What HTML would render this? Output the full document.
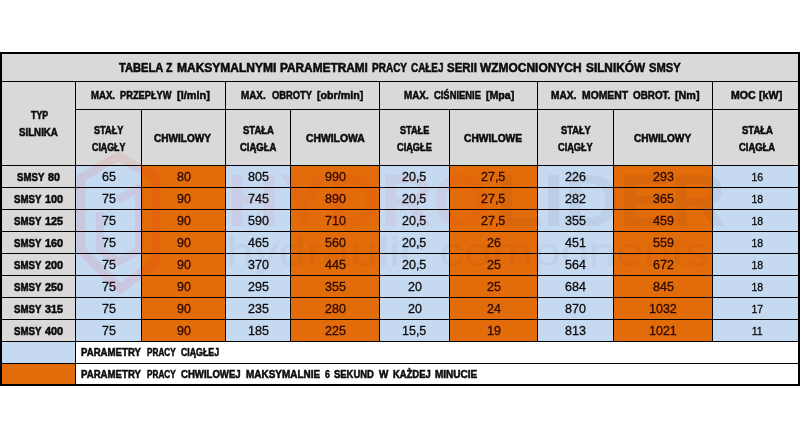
<!DOCTYPE html>
<html lang="pl"><head><meta charset="utf-8"><title>Tabela SMSY</title>
<style>
html,body{margin:0;padding:0;background:#fff;}
body{width:800px;height:441px;overflow:hidden;position:relative;font-family:"Liberation Sans",Arial,sans-serif;color:#0c0c0c;}
#tbl{position:absolute;left:0;top:52px;width:800px;height:334px;background:#000;}
#wrap{position:absolute;left:0;top:0;width:800px;height:441px;}
.c{position:absolute;white-space:nowrap;}
.t{position:absolute;display:block;transform-origin:0 50%;white-space:nowrap;}
.b{font-weight:bold;-webkit-text-stroke:0.55px #0c0c0c;}
.n{font-weight:normal;-webkit-text-stroke:0.3px #0c0c0c;}
.o{color:#2e0a00;-webkit-text-stroke-color:#2e0a00;}
.f0{font-size:10.5px;line-height:15px;}
.f1{font-size:10.8px;line-height:15px;}
.f2{font-size:11.5px;line-height:16px;}
.f3{font-size:12.0px;line-height:16px;}
.f4{font-size:12.7px;line-height:17px;}
</style></head><body>
<div id="tbl"></div>
<div id="wrap">
<div class="c" style="left:2px;top:54px;width:796px;height:27px;background:#d9d9d9"><span class="t b f4" style="left:117.43px;top:6px;transform:scaleX(0.8769);">TABELA</span> <span class="t b f4" style="left:164.38px;top:6px;transform:scaleX(0.8313);">Z</span> <span class="t b f4" style="left:174.68px;top:6px;transform:scaleX(0.9460);">MAKSYMALNYMI</span> <span class="t b f4" style="left:277.67px;top:6px;transform:scaleX(0.9329);">PARAMETRAMI</span> <span class="t b f4" style="left:369.67px;top:6px;transform:scaleX(0.7887);">PRACY</span> <span class="t b f4" style="left:408.87px;top:6px;transform:scaleX(0.7812);">CAŁEJ</span> <span class="t b f4" style="left:444.87px;top:6px;transform:scaleX(0.9030);">SERII</span> <span class="t b f4" style="left:477.87px;top:6px;transform:scaleX(0.9422);">WZMOCNIONYCH</span> <span class="t b f4" style="left:583.67px;top:6px;transform:scaleX(0.9306);">SILNIKÓW</span> <span class="t b f4" style="left:646.67px;top:6px;transform:scaleX(0.8782);">SMSY</span></div>
<div class="c" style="left:2px;top:82px;width:73px;height:83px;background:#d9d9d9"><span class="t b f1" style="left:28.97px;top:26px;transform:scaleX(0.8198);">TYP</span> <span class="t b f1" style="left:16.97px;top:43px;transform:scaleX(0.9000);">SILNIKA</span> </div>
<div class="c" style="left:76px;top:82px;width:149px;height:27px;background:#d9d9d9"><span class="t b f2" style="left:15.18px;top:5px;transform:translateY(0.30px) scaleX(0.8352);">MAX.</span> <span class="t b f2" style="left:44.38px;top:5px;transform:translateY(0.30px) scaleX(0.8066);">PRZEPŁYW</span> <span class="t b f2" style="left:101.28px;top:5px;transform:translateY(0.30px) scaleX(0.9534);">[l/min]</span></div>
<div class="c" style="left:226px;top:82px;width:153px;height:27px;background:#d9d9d9"><span class="t b f2" style="left:15.47px;top:5px;transform:translateY(0.30px) scaleX(0.8562);">MAX.</span> <span class="t b f2" style="left:45.87px;top:5px;transform:translateY(0.30px) scaleX(0.8107);">OBROTY</span> <span class="t b f2" style="left:90.97px;top:5px;transform:translateY(0.30px) scaleX(0.9291);">[obr/min]</span></div>
<div class="c" style="left:380px;top:82px;width:157px;height:27px;background:#d9d9d9"><span class="t b f2" style="left:23.87px;top:5px;transform:translateY(0.30px) scaleX(0.8562);">MAX.</span> <span class="t b f2" style="left:53.97px;top:5px;transform:translateY(0.30px) scaleX(0.8152);">CIŚNIENIE</span> <span class="t b f2" style="left:105.97px;top:5px;transform:translateY(0.30px) scaleX(0.9228);">[Mpa]</span></div>
<div class="c" style="left:538px;top:82px;width:174px;height:27px;background:#d9d9d9"><span class="t b f2" style="left:13.38px;top:5px;transform:translateY(0.30px) scaleX(0.8843);">MAX.</span> <span class="t b f2" style="left:43.98px;top:5px;transform:translateY(0.30px) scaleX(0.9015);">MOMENT</span> <span class="t b f2" style="left:94.98px;top:5px;transform:translateY(0.30px) scaleX(0.8566);">OBROT.</span> <span class="t b f2" style="left:136.58px;top:5px;transform:translateY(0.30px) scaleX(0.9351);">[Nm]</span></div>
<div class="c" style="left:713px;top:82px;width:85px;height:27px;background:#d9d9d9"><span class="t b f2" style="left:18.48px;top:5px;transform:translateY(0.30px) scaleX(0.9180);">MOC</span> <span class="t b f2" style="left:45.98px;top:5px;transform:translateY(0.30px) scaleX(0.9310);">[kW]</span></div>
<div class="c" style="left:76px;top:110px;width:65px;height:55px;background:#d9d9d9"><span class="t b f1" style="left:17.98px;top:13px;transform:scaleX(0.8492);">STAŁY</span> <span class="t b f1" style="left:15.58px;top:30px;transform:scaleX(0.8188);">CIĄGŁY</span> </div>
<div class="c" style="left:142px;top:110px;width:83px;height:55px;background:#d9d9d9"><span class="t b f1" style="left:11.97px;top:21px;transform:scaleX(0.9303);">CHWILOWY</span> </div>
<div class="c" style="left:226px;top:110px;width:64px;height:55px;background:#d9d9d9"><span class="t b f1" style="left:16.97px;top:13px;transform:scaleX(0.8774);">STAŁA</span> <span class="t b f1" style="left:13.97px;top:30px;transform:scaleX(0.8765);">CIĄGŁA</span> </div>
<div class="c" style="left:291px;top:110px;width:88px;height:55px;background:#d9d9d9"><span class="t b f1" style="left:14.57px;top:21px;transform:scaleX(0.9589);">CHWILOWA</span> </div>
<div class="c" style="left:380px;top:110px;width:69px;height:55px;background:#d9d9d9"><span class="t b f1" style="left:19.97px;top:13px;transform:scaleX(0.8448);">STAŁE</span> <span class="t b f1" style="left:16.97px;top:30px;transform:scaleX(0.8537);">CIĄGŁE</span> </div>
<div class="c" style="left:450px;top:110px;width:87px;height:55px;background:#d9d9d9"><span class="t b f1" style="left:14.07px;top:21px;transform:scaleX(0.9505);">CHWILOWE</span> </div>
<div class="c" style="left:538px;top:110px;width:75px;height:55px;background:#d9d9d9"><span class="t b f1" style="left:22.88px;top:13px;transform:scaleX(0.8605);">STAŁY</span> <span class="t b f1" style="left:20.18px;top:30px;transform:scaleX(0.8500);">CIĄGŁY</span> </div>
<div class="c" style="left:614px;top:110px;width:98px;height:55px;background:#d9d9d9"><span class="t b f1" style="left:20.18px;top:21px;transform:scaleX(0.9335);">CHWILOWY</span> </div>
<div class="c" style="left:713px;top:110px;width:85px;height:55px;background:#d9d9d9"><span class="t b f1" style="left:29.27px;top:13px;transform:scaleX(0.8803);">STAŁA</span> <span class="t b f1" style="left:26.48px;top:30px;transform:scaleX(0.8693);">CIĄGŁA</span> </div>
<div class="c" style="left:2px;top:166px;width:73px;height:21px;background:#d9d9d9"><span class="t b f1" style="left:14.87px;top:4px;transform:scaleX(0.8934);">SMSY</span> <span class="t b f1" style="left:46.07px;top:4px;transform:scaleX(0.9871);">80</span></div>
<div class="c" style="left:76px;top:166px;width:65px;height:21px;background:#c5d9f1"><span class="t n f3" style="left:25.69px;top:3px;transform:scaleX(1.0400);">65</span> </div>
<div class="c" style="left:142px;top:166px;width:83px;height:21px;background:#e26b0a"><span class="t n o f3" style="left:34.69px;top:3px;transform:scaleX(1.0400);">80</span> </div>
<div class="c" style="left:226px;top:166px;width:64px;height:21px;background:#c5d9f1"><span class="t n f3" style="left:21.72px;top:3px;transform:scaleX(1.0400);">805</span> </div>
<div class="c" style="left:291px;top:166px;width:88px;height:21px;background:#e26b0a"><span class="t n o f3" style="left:33.72px;top:3px;transform:scaleX(1.0400);">990</span> </div>
<div class="c" style="left:380px;top:166px;width:69px;height:21px;background:#c5d9f1"><span class="t n f3" style="left:22.49px;top:3px;transform:scaleX(1.0400);">20,5</span> </div>
<div class="c" style="left:450px;top:166px;width:87px;height:21px;background:#e26b0a"><span class="t n o f3" style="left:31.49px;top:3px;transform:scaleX(1.0400);">27,5</span> </div>
<div class="c" style="left:538px;top:166px;width:75px;height:21px;background:#c5d9f1"><span class="t n f3" style="left:27.22px;top:3px;transform:scaleX(1.0400);">226</span> </div>
<div class="c" style="left:614px;top:166px;width:98px;height:21px;background:#e26b0a"><span class="t n o f3" style="left:38.72px;top:3px;transform:scaleX(1.0400);">293</span> </div>
<div class="c" style="left:713px;top:166px;width:85px;height:21px;background:#c5d9f1"><span class="t n f0" style="left:38.38px;top:4px;">16</span> </div>
<div class="c" style="left:2px;top:188px;width:73px;height:21px;background:#d9d9d9"><span class="t b f1" style="left:11.88px;top:4px;transform:scaleX(0.8934);">SMSY</span> <span class="t b f1" style="left:43.08px;top:4px;transform:scaleX(1.0023);">100</span></div>
<div class="c" style="left:76px;top:188px;width:65px;height:21px;background:#c5d9f1"><span class="t n f3" style="left:25.69px;top:3px;transform:scaleX(1.0400);">75</span> </div>
<div class="c" style="left:142px;top:188px;width:83px;height:21px;background:#e26b0a"><span class="t n o f3" style="left:34.69px;top:3px;transform:scaleX(1.0400);">90</span> </div>
<div class="c" style="left:226px;top:188px;width:64px;height:21px;background:#c5d9f1"><span class="t n f3" style="left:21.72px;top:3px;transform:scaleX(1.0400);">745</span> </div>
<div class="c" style="left:291px;top:188px;width:88px;height:21px;background:#e26b0a"><span class="t n o f3" style="left:33.72px;top:3px;transform:scaleX(1.0400);">890</span> </div>
<div class="c" style="left:380px;top:188px;width:69px;height:21px;background:#c5d9f1"><span class="t n f3" style="left:22.49px;top:3px;transform:scaleX(1.0400);">20,5</span> </div>
<div class="c" style="left:450px;top:188px;width:87px;height:21px;background:#e26b0a"><span class="t n o f3" style="left:31.49px;top:3px;transform:scaleX(1.0400);">27,5</span> </div>
<div class="c" style="left:538px;top:188px;width:75px;height:21px;background:#c5d9f1"><span class="t n f3" style="left:27.22px;top:3px;transform:scaleX(1.0400);">282</span> </div>
<div class="c" style="left:614px;top:188px;width:98px;height:21px;background:#e26b0a"><span class="t n o f3" style="left:38.72px;top:3px;transform:scaleX(1.0400);">365</span> </div>
<div class="c" style="left:713px;top:188px;width:85px;height:21px;background:#c5d9f1"><span class="t n f0" style="left:38.38px;top:4px;">18</span> </div>
<div class="c" style="left:2px;top:210px;width:73px;height:21px;background:#d9d9d9"><span class="t b f1" style="left:11.88px;top:4px;transform:scaleX(0.8934);">SMSY</span> <span class="t b f1" style="left:43.08px;top:4px;transform:scaleX(1.0023);">125</span></div>
<div class="c" style="left:76px;top:210px;width:65px;height:21px;background:#c5d9f1"><span class="t n f3" style="left:25.69px;top:3px;transform:scaleX(1.0400);">75</span> </div>
<div class="c" style="left:142px;top:210px;width:83px;height:21px;background:#e26b0a"><span class="t n o f3" style="left:34.69px;top:3px;transform:scaleX(1.0400);">90</span> </div>
<div class="c" style="left:226px;top:210px;width:64px;height:21px;background:#c5d9f1"><span class="t n f3" style="left:21.72px;top:3px;transform:scaleX(1.0400);">590</span> </div>
<div class="c" style="left:291px;top:210px;width:88px;height:21px;background:#e26b0a"><span class="t n o f3" style="left:33.72px;top:3px;transform:scaleX(1.0400);">710</span> </div>
<div class="c" style="left:380px;top:210px;width:69px;height:21px;background:#c5d9f1"><span class="t n f3" style="left:22.49px;top:3px;transform:scaleX(1.0400);">20,5</span> </div>
<div class="c" style="left:450px;top:210px;width:87px;height:21px;background:#e26b0a"><span class="t n o f3" style="left:31.49px;top:3px;transform:scaleX(1.0400);">27,5</span> </div>
<div class="c" style="left:538px;top:210px;width:75px;height:21px;background:#c5d9f1"><span class="t n f3" style="left:27.22px;top:3px;transform:scaleX(1.0400);">355</span> </div>
<div class="c" style="left:614px;top:210px;width:98px;height:21px;background:#e26b0a"><span class="t n o f3" style="left:38.72px;top:3px;transform:scaleX(1.0400);">459</span> </div>
<div class="c" style="left:713px;top:210px;width:85px;height:21px;background:#c5d9f1"><span class="t n f0" style="left:38.38px;top:4px;">18</span> </div>
<div class="c" style="left:2px;top:232px;width:73px;height:21px;background:#d9d9d9"><span class="t b f1" style="left:11.88px;top:4px;transform:scaleX(0.8934);">SMSY</span> <span class="t b f1" style="left:43.08px;top:4px;transform:scaleX(1.0023);">160</span></div>
<div class="c" style="left:76px;top:232px;width:65px;height:21px;background:#c5d9f1"><span class="t n f3" style="left:25.69px;top:3px;transform:scaleX(1.0400);">75</span> </div>
<div class="c" style="left:142px;top:232px;width:83px;height:21px;background:#e26b0a"><span class="t n o f3" style="left:34.69px;top:3px;transform:scaleX(1.0400);">90</span> </div>
<div class="c" style="left:226px;top:232px;width:64px;height:21px;background:#c5d9f1"><span class="t n f3" style="left:21.72px;top:3px;transform:scaleX(1.0400);">465</span> </div>
<div class="c" style="left:291px;top:232px;width:88px;height:21px;background:#e26b0a"><span class="t n o f3" style="left:33.72px;top:3px;transform:scaleX(1.0400);">560</span> </div>
<div class="c" style="left:380px;top:232px;width:69px;height:21px;background:#c5d9f1"><span class="t n f3" style="left:22.49px;top:3px;transform:scaleX(1.0400);">20,5</span> </div>
<div class="c" style="left:450px;top:232px;width:87px;height:21px;background:#e26b0a"><span class="t n o f3" style="left:36.69px;top:3px;transform:scaleX(1.0400);">26</span> </div>
<div class="c" style="left:538px;top:232px;width:75px;height:21px;background:#c5d9f1"><span class="t n f3" style="left:27.22px;top:3px;transform:scaleX(1.0400);">451</span> </div>
<div class="c" style="left:614px;top:232px;width:98px;height:21px;background:#e26b0a"><span class="t n o f3" style="left:38.72px;top:3px;transform:scaleX(1.0400);">559</span> </div>
<div class="c" style="left:713px;top:232px;width:85px;height:21px;background:#c5d9f1"><span class="t n f0" style="left:38.38px;top:4px;">18</span> </div>
<div class="c" style="left:2px;top:254px;width:73px;height:21px;background:#d9d9d9"><span class="t b f1" style="left:11.88px;top:4px;transform:scaleX(0.8934);">SMSY</span> <span class="t b f1" style="left:43.08px;top:4px;transform:scaleX(1.0023);">200</span></div>
<div class="c" style="left:76px;top:254px;width:65px;height:21px;background:#c5d9f1"><span class="t n f3" style="left:25.69px;top:3px;transform:scaleX(1.0400);">75</span> </div>
<div class="c" style="left:142px;top:254px;width:83px;height:21px;background:#e26b0a"><span class="t n o f3" style="left:34.69px;top:3px;transform:scaleX(1.0400);">90</span> </div>
<div class="c" style="left:226px;top:254px;width:64px;height:21px;background:#c5d9f1"><span class="t n f3" style="left:21.72px;top:3px;transform:scaleX(1.0400);">370</span> </div>
<div class="c" style="left:291px;top:254px;width:88px;height:21px;background:#e26b0a"><span class="t n o f3" style="left:33.72px;top:3px;transform:scaleX(1.0400);">445</span> </div>
<div class="c" style="left:380px;top:254px;width:69px;height:21px;background:#c5d9f1"><span class="t n f3" style="left:22.49px;top:3px;transform:scaleX(1.0400);">20,5</span> </div>
<div class="c" style="left:450px;top:254px;width:87px;height:21px;background:#e26b0a"><span class="t n o f3" style="left:36.69px;top:3px;transform:scaleX(1.0400);">25</span> </div>
<div class="c" style="left:538px;top:254px;width:75px;height:21px;background:#c5d9f1"><span class="t n f3" style="left:27.22px;top:3px;transform:scaleX(1.0400);">564</span> </div>
<div class="c" style="left:614px;top:254px;width:98px;height:21px;background:#e26b0a"><span class="t n o f3" style="left:38.72px;top:3px;transform:scaleX(1.0400);">672</span> </div>
<div class="c" style="left:713px;top:254px;width:85px;height:21px;background:#c5d9f1"><span class="t n f0" style="left:38.38px;top:4px;">18</span> </div>
<div class="c" style="left:2px;top:276px;width:73px;height:21px;background:#d9d9d9"><span class="t b f1" style="left:11.88px;top:4px;transform:scaleX(0.8934);">SMSY</span> <span class="t b f1" style="left:43.08px;top:4px;transform:scaleX(1.0023);">250</span></div>
<div class="c" style="left:76px;top:276px;width:65px;height:21px;background:#c5d9f1"><span class="t n f3" style="left:25.69px;top:3px;transform:scaleX(1.0400);">75</span> </div>
<div class="c" style="left:142px;top:276px;width:83px;height:21px;background:#e26b0a"><span class="t n o f3" style="left:34.69px;top:3px;transform:scaleX(1.0400);">90</span> </div>
<div class="c" style="left:226px;top:276px;width:64px;height:21px;background:#c5d9f1"><span class="t n f3" style="left:21.72px;top:3px;transform:scaleX(1.0400);">295</span> </div>
<div class="c" style="left:291px;top:276px;width:88px;height:21px;background:#e26b0a"><span class="t n o f3" style="left:33.72px;top:3px;transform:scaleX(1.0400);">355</span> </div>
<div class="c" style="left:380px;top:276px;width:69px;height:21px;background:#c5d9f1"><span class="t n f3" style="left:27.69px;top:3px;transform:scaleX(1.0400);">20</span> </div>
<div class="c" style="left:450px;top:276px;width:87px;height:21px;background:#e26b0a"><span class="t n o f3" style="left:36.69px;top:3px;transform:scaleX(1.0400);">25</span> </div>
<div class="c" style="left:538px;top:276px;width:75px;height:21px;background:#c5d9f1"><span class="t n f3" style="left:27.22px;top:3px;transform:scaleX(1.0400);">684</span> </div>
<div class="c" style="left:614px;top:276px;width:98px;height:21px;background:#e26b0a"><span class="t n o f3" style="left:38.72px;top:3px;transform:scaleX(1.0400);">845</span> </div>
<div class="c" style="left:713px;top:276px;width:85px;height:21px;background:#c5d9f1"><span class="t n f0" style="left:38.38px;top:4px;">18</span> </div>
<div class="c" style="left:2px;top:298px;width:73px;height:21px;background:#d9d9d9"><span class="t b f1" style="left:11.88px;top:4px;transform:scaleX(0.8934);">SMSY</span> <span class="t b f1" style="left:43.08px;top:4px;transform:scaleX(1.0023);">315</span></div>
<div class="c" style="left:76px;top:298px;width:65px;height:21px;background:#c5d9f1"><span class="t n f3" style="left:25.69px;top:3px;transform:scaleX(1.0400);">75</span> </div>
<div class="c" style="left:142px;top:298px;width:83px;height:21px;background:#e26b0a"><span class="t n o f3" style="left:34.69px;top:3px;transform:scaleX(1.0400);">90</span> </div>
<div class="c" style="left:226px;top:298px;width:64px;height:21px;background:#c5d9f1"><span class="t n f3" style="left:21.72px;top:3px;transform:scaleX(1.0400);">235</span> </div>
<div class="c" style="left:291px;top:298px;width:88px;height:21px;background:#e26b0a"><span class="t n o f3" style="left:33.72px;top:3px;transform:scaleX(1.0400);">280</span> </div>
<div class="c" style="left:380px;top:298px;width:69px;height:21px;background:#c5d9f1"><span class="t n f3" style="left:27.69px;top:3px;transform:scaleX(1.0400);">20</span> </div>
<div class="c" style="left:450px;top:298px;width:87px;height:21px;background:#e26b0a"><span class="t n o f3" style="left:36.69px;top:3px;transform:scaleX(1.0400);">24</span> </div>
<div class="c" style="left:538px;top:298px;width:75px;height:21px;background:#c5d9f1"><span class="t n f3" style="left:27.22px;top:3px;transform:scaleX(1.0400);">870</span> </div>
<div class="c" style="left:614px;top:298px;width:98px;height:21px;background:#e26b0a"><span class="t n o f3" style="left:35.25px;top:3px;transform:scaleX(1.0400);">1032</span> </div>
<div class="c" style="left:713px;top:298px;width:85px;height:21px;background:#c5d9f1"><span class="t n f0" style="left:38.38px;top:4px;">17</span> </div>
<div class="c" style="left:2px;top:320px;width:73px;height:21px;background:#d9d9d9"><span class="t b f1" style="left:11.88px;top:4px;transform:scaleX(0.8934);">SMSY</span> <span class="t b f1" style="left:43.08px;top:4px;transform:scaleX(1.0023);">400</span></div>
<div class="c" style="left:76px;top:320px;width:65px;height:21px;background:#c5d9f1"><span class="t n f3" style="left:25.69px;top:3px;transform:scaleX(1.0400);">75</span> </div>
<div class="c" style="left:142px;top:320px;width:83px;height:21px;background:#e26b0a"><span class="t n o f3" style="left:34.69px;top:3px;transform:scaleX(1.0400);">90</span> </div>
<div class="c" style="left:226px;top:320px;width:64px;height:21px;background:#c5d9f1"><span class="t n f3" style="left:21.72px;top:3px;transform:scaleX(1.0400);">185</span> </div>
<div class="c" style="left:291px;top:320px;width:88px;height:21px;background:#e26b0a"><span class="t n o f3" style="left:33.72px;top:3px;transform:scaleX(1.0400);">225</span> </div>
<div class="c" style="left:380px;top:320px;width:69px;height:21px;background:#c5d9f1"><span class="t n f3" style="left:22.49px;top:3px;transform:scaleX(1.0400);">15,5</span> </div>
<div class="c" style="left:450px;top:320px;width:87px;height:21px;background:#e26b0a"><span class="t n o f3" style="left:36.69px;top:3px;transform:scaleX(1.0400);">19</span> </div>
<div class="c" style="left:538px;top:320px;width:75px;height:21px;background:#c5d9f1"><span class="t n f3" style="left:27.22px;top:3px;transform:scaleX(1.0400);">813</span> </div>
<div class="c" style="left:614px;top:320px;width:98px;height:21px;background:#e26b0a"><span class="t n o f3" style="left:35.25px;top:3px;transform:scaleX(1.0400);">1021</span> </div>
<div class="c" style="left:713px;top:320px;width:85px;height:21px;background:#c5d9f1"><span class="t n f0" style="left:38.77px;top:4px;">11</span> </div>
<div class="c" style="left:2px;top:342px;width:73px;height:21px;background:#c5d9f1"></div>
<div class="c" style="left:76px;top:342px;width:722px;height:21px;background:#fff"><span class="t b f1" style="left:5.23px;top:2px;transform:translateY(0.60px) scaleX(0.8915);">PARAMETRY</span> <span class="t b f1" style="left:70.72px;top:2px;transform:translateY(0.60px) scaleX(0.7592);">PRACY</span> <span class="t b f1" style="left:105.22px;top:2px;transform:translateY(0.60px) scaleX(0.8122);">CIĄGŁEJ</span></div>
<div class="c" style="left:2px;top:364px;width:73px;height:20px;background:#e26b0a"></div>
<div class="c" style="left:76px;top:364px;width:722px;height:20px;background:#fff"><span class="t b f1" style="left:5.23px;top:2px;transform:translateY(0.60px) scaleX(0.8915);">PARAMETRY</span> <span class="t b f1" style="left:70.72px;top:2px;transform:translateY(0.60px) scaleX(0.7592);">PRACY</span> <span class="t b f1" style="left:105.22px;top:2px;transform:translateY(0.60px) scaleX(0.8873);">CHWILOWEJ</span> <span class="t b f1" style="left:169.97px;top:2px;transform:translateY(0.60px) scaleX(0.9211);">MAKSYMALNIE</span> <span class="t b f1" style="left:248.72px;top:2px;transform:translateY(0.60px) scaleX(0.8167);">6</span> <span class="t b f1" style="left:257.97px;top:2px;transform:translateY(0.60px) scaleX(0.8746);">SEKUND</span> <span class="t b f1" style="left:302.57px;top:2px;transform:translateY(0.60px) scaleX(0.9136);">W</span> <span class="t b f1" style="left:316.97px;top:2px;transform:translateY(0.60px) scaleX(0.8718);">KAŻDEJ</span> <span class="t b f1" style="left:358.97px;top:2px;transform:translateY(0.60px) scaleX(0.9265);">MINUCIE</span></div>
<svg id="wm" width="800" height="441" viewBox="0 0 800 441" style="position:absolute;left:0;top:0;pointer-events:none">
<defs><clipPath id="wmclip"><rect x="76" y="110" width="722" height="232"/></clipPath></defs>
<g clip-path="url(#wmclip)" font-family="'Liberation Sans',Arial,sans-serif">
<polygon points="118,156 156,178 156,262 120,289 81,250 81,178" fill="none" stroke="#e8141c" stroke-opacity="0.09" stroke-width="9" stroke-linejoin="round"/>
<path d="M118 200 L139 188 L139 250 L118 262 L100 250 L100 212" fill="none" stroke="#e8141c" stroke-opacity="0.07" stroke-width="8" stroke-linejoin="round"/>
<text x="227" y="226" font-size="75" font-weight="bold" fill="#e8141c" fill-opacity="0.055" textLength="262" lengthAdjust="spacingAndGlyphs">HYDRO</text>
<text x="496" y="226" font-size="75" font-weight="bold" fill="#303030" fill-opacity="0.05" textLength="230" lengthAdjust="spacingAndGlyphs">LIDER</text>
<text x="226" y="266" font-size="40" fill="#303030" fill-opacity="0.045" textLength="484" lengthAdjust="spacingAndGlyphs">hydraulic components</text>
</g>
</svg>

</div>
</body></html>
